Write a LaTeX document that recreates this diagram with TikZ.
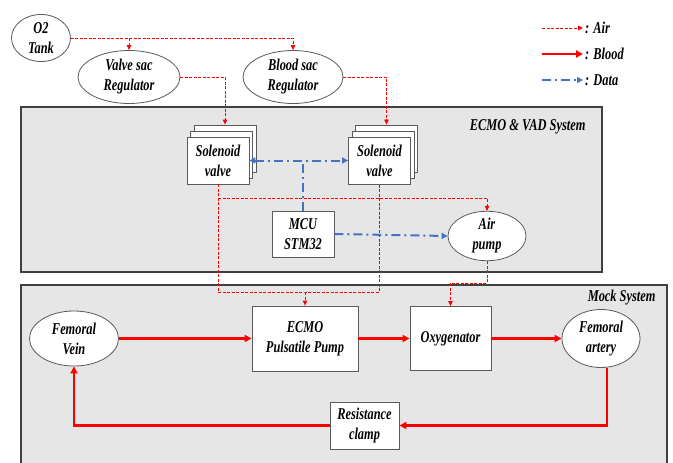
\documentclass[tikz,border=0pt]{standalone}
\usepackage{fontspec}
\setmainfont{Liberation Serif}[FakeStretch=0.75]
\usetikzlibrary{arrows.meta,shapes.geometric,shadows}
\definecolor{airred}{RGB}{255,0,0}
\definecolor{datablue}{RGB}{68,114,196}
\definecolor{panel}{RGB}{230,230,230}
\definecolor{rim}{RGB}{90,90,90}

\begin{document}
\begin{tikzpicture}[x=1pt,y=-1pt,font=\bfseries\itshape\fontsize{16.5}{20}\selectfont,
 sysbox/.style={draw=black!75,line width=1.6pt,fill=panel},
 oval/.style={draw=rim,ellipse,fill=white,line width=.8pt,inner sep=0pt,align=center},
 box/.style={draw=rim,fill=white,line width=.8pt,inner sep=0pt,align=center},
 stack/.style={box,double copy shadow={shadow xshift=3.5pt,shadow yshift=6pt,draw=rim,fill=white,line width=.8pt}},
 air/.style={airred,line width=1pt,dash pattern=on 3pt off 1.5pt,>={Triangle[length=5pt,width=4.5pt]}},
 blood/.style={airred,line width=2.4pt,>={Triangle[length=7pt,width=7pt]}},
 data/.style={datablue,line width=2pt,dash pattern=on 9pt off 4pt on 2pt off 4pt,>={Triangle[length=6pt,width=6pt]}}]
\clip (0,0) rectangle (673,463);
\draw[sysbox] (21,107) rectangle (602,272);
\draw[sysbox] (21,285) rectangle (667,480);
\node[anchor=east] (vadlbl) at (589,127) {ECMO \& VAD System};
\node[anchor=east] (mocklbl) at (659,298) {Mock System};
\node[oval,minimum width=59,minimum height=47] (tank) at (41,38) {O2\\Tank};
\node[oval,minimum width=102,minimum height=53] (vsac) at (129,77) {Valve sac\\Regulator};
\node[oval,minimum width=100,minimum height=53] (bsac) at (293,77) {Blood sac\\Regulator};
\node[stack,minimum width=62,minimum height=47] (sol1) at (218,160.5) {Solenoid\\valve};
\node[stack,minimum width=62,minimum height=47] (sol2) at (379.5,160.5) {Solenoid\\valve};
\node[box,minimum width=62,minimum height=46] (mcu) at (303,234) {MCU\\STM32};
\node[oval,minimum width=78,minimum height=48] (airp) at (487,236) {Air\\pump};
\node[oval,minimum width=89,minimum height=55] (vein) at (74,338.5) {Femoral\\Vein};
\node[box,minimum width=106,minimum height=65] (pump) at (305,338.5) {ECMO\\Pulsatile Pump};
\node[box,minimum width=81,minimum height=64] (oxy) at (450.5,338.5) {Oxygenator};
\node[oval,minimum width=78,minimum height=58] (artery) at (601,338.5) {Femoral\\artery};
\node[box,minimum width=69,minimum height=47] (clamp) at (364.5,425.5) {Resistance\\clamp};
\coordinate (airbus) at (305,292);
\coordinate (airtap) at (218,198);
\coordinate (oxyin) at (450.5,283);
\draw[air,->] (tank.east) -| (bsac.north);
\draw[air,->] (tank.east -| vsac.north) -- (vsac.north);
\draw[air,->] (vsac.east) -| ([xshift=7pt,yshift=12pt]sol1.north);
\draw[air,->] (bsac.east) -| ([xshift=7pt,yshift=12pt]sol2.north);
\draw[air] (sol1.south) |- (airbus) -| (sol2.south);
\draw[air,->] (airbus) -- (pump.north);
\draw[air,->] (airtap) -| (airp.north);
\draw[air,->] (airp.south) |- (oxyin) -- (oxy.north);
\draw[data,<->] (sol1.east) -- (sol2.west);
\draw[data] (mcu.north) -- (mcu.north |- sol1.east);
\draw[data,->] (mcu.east) -- (airp.west);
\draw[blood,->] (vein.east) -- (pump.west);
\draw[blood,->] (pump.east) -- (oxy.west);
\draw[blood,->] (oxy.east) -- (artery.west);
\draw[blood,->] (artery.-78) |- (clamp.east);
\draw[blood,->] (clamp.west) -| (vein.south);
\coordinate (kair) at (542,28);
\coordinate (kblood) at (542,54);
\coordinate (kdata) at (542,80);
\node[anchor=west,inner sep=2pt] (lair) at (583,28) {: Air};
\node[anchor=west,inner sep=2pt] (lblood) at (583,54) {: Blood};
\node[anchor=west,inner sep=2pt] (ldata) at (583,80) {: Data};
\draw[air,->] (kair) -- (lair.west);
\draw[blood,->] (kblood) -- (lblood.west);
\draw[data,->] (kdata) -- (ldata.west);
\end{tikzpicture}
\end{document}
